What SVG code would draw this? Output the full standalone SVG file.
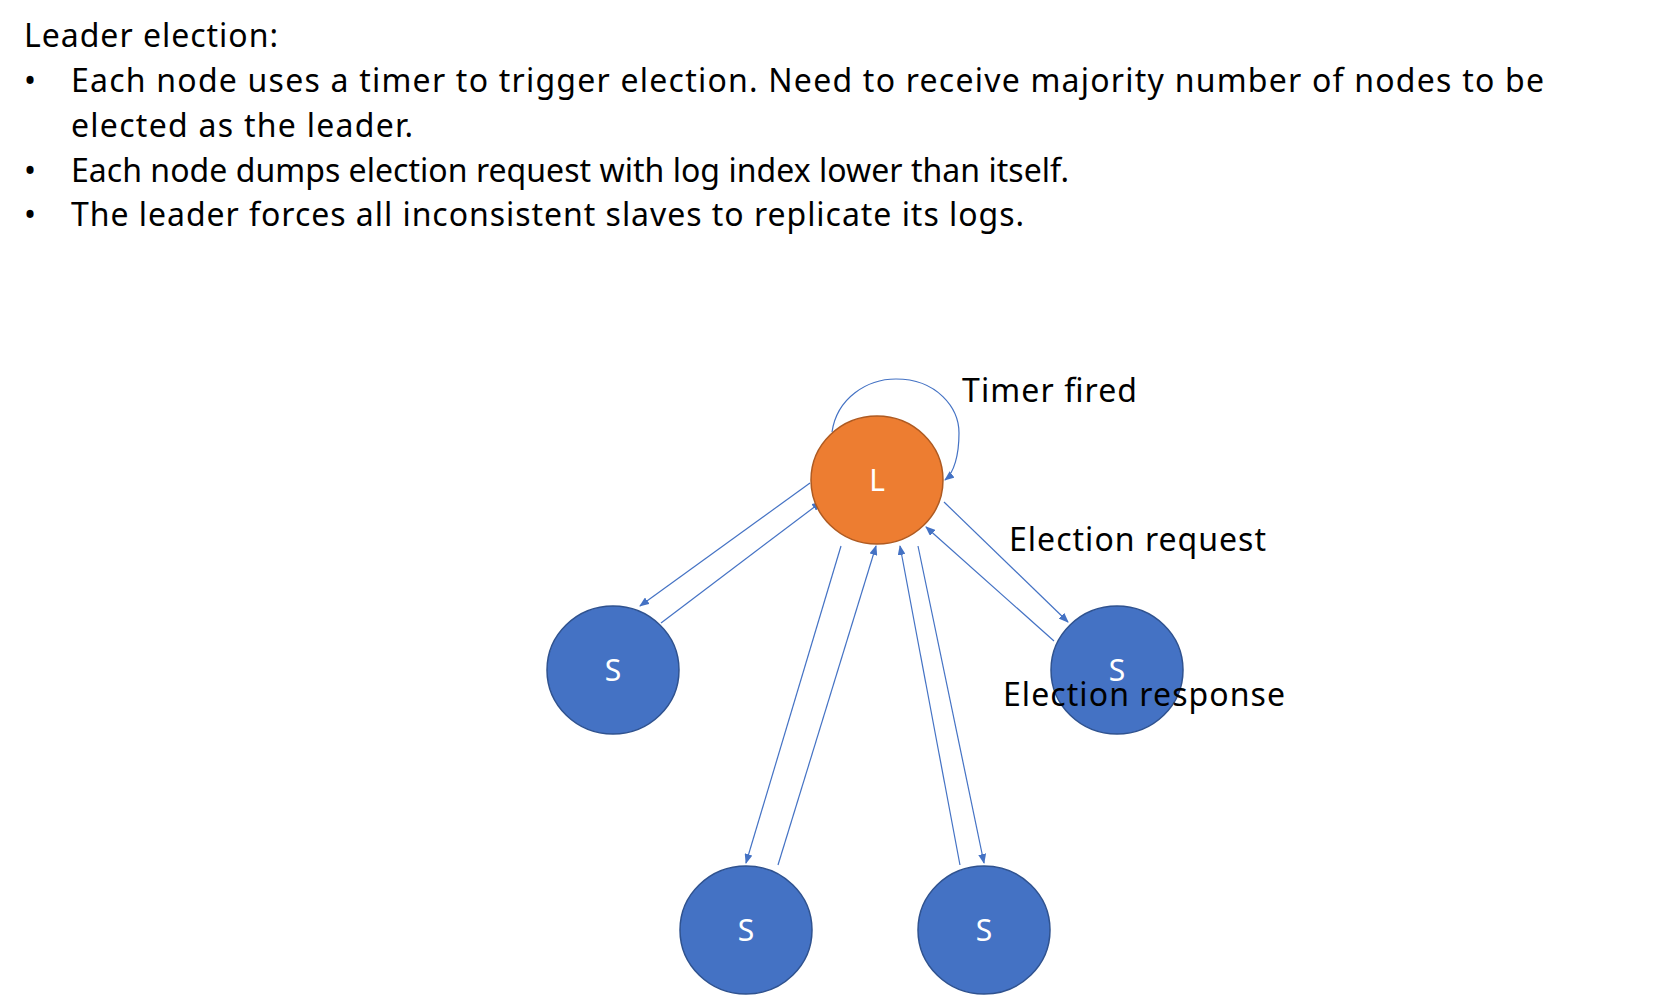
<svg xmlns="http://www.w3.org/2000/svg" width="1673" height="998" viewBox="0 0 1673 998">
<style>
text{font-family:"Noto Sans","Liberation Sans",sans-serif;fill:#000}
.t{font-size:32px}
.n{font-size:30px;fill:#fff;text-anchor:middle}
.s{fill:#4472C4;stroke:#2F528F;stroke-width:1.5}
.l{fill:#ED7D31;stroke:#AE5A21;stroke-width:1.5}
.c{stroke:#4472C4;stroke-width:1.2;fill:none;marker-end:url(#a)}
</style>
<defs><marker id="a" markerWidth="10" markerHeight="8" refX="9" refY="4" orient="auto" markerUnits="userSpaceOnUse"><path d="M0,0L10,4L0,8z" fill="#4472C4"/></marker></defs>
<rect width="1673" height="998" fill="#fff"/>
<g id="text">
<text class="t" x="24" y="47" textLength="254">Leader election:</text>
<text class="t" x="24" y="92">•</text><text class="t" x="71" y="92" textLength="1473">Each node uses a timer to trigger election. Need to receive majority number of nodes to be</text>
<text class="t" x="71" y="137" textLength="342">elected as the leader.</text>
<text class="t" x="24" y="182">•</text><text class="t" x="71" y="182" textLength="998">Each node dumps election request with log index lower than itself.</text>
<text class="t" x="24" y="226">•</text><text class="t" x="71" y="226" textLength="953">The leader forces all inconsistent slaves to replicate its logs.</text>
</g>
<g id="connectors">
<path class="c" d="M810,483L640,606"/>
<path class="c" d="M661,623L821,502"/>
<path class="c" d="M841,546L746,863"/>
<path class="c" d="M778,865L876,546"/>
<path class="c" d="M960,865L900,546"/>
<path class="c" d="M918,546L984,863"/>
<path class="c" d="M944,502L1068,622"/>
<path class="c" d="M1054,641L926,527"/>
<path class="c" d="M832,432C837,398 867,379 896,379C937,379 959,408 959,433C959,455 954,473 945,480"/>
</g>
<g id="L"><ellipse class="l" cx="877" cy="480" rx="66" ry="64"/><text class="n" x="877" y="491">L</text></g>
<g id="S1"><ellipse class="s" cx="613" cy="670" rx="66" ry="64"/><text class="n" x="613" y="681">S</text></g>
<g id="S2"><ellipse class="s" cx="1117" cy="670" rx="66" ry="64"/><text class="n" x="1117" y="681">S</text></g>
<g id="S3"><ellipse class="s" cx="746" cy="930" rx="66" ry="64"/><text class="n" x="746" y="941">S</text></g>
<g id="S4"><ellipse class="s" cx="984" cy="930" rx="66" ry="64"/><text class="n" x="984" y="941">S</text></g>
<g id="labels">
<text class="t" x="962" y="402" textLength="175">Timer fired</text>
<text class="t" x="1009" y="551" textLength="257">Election request</text>
<text class="t" x="1003" y="706" textLength="282">Election response</text>
</g>
</svg>
